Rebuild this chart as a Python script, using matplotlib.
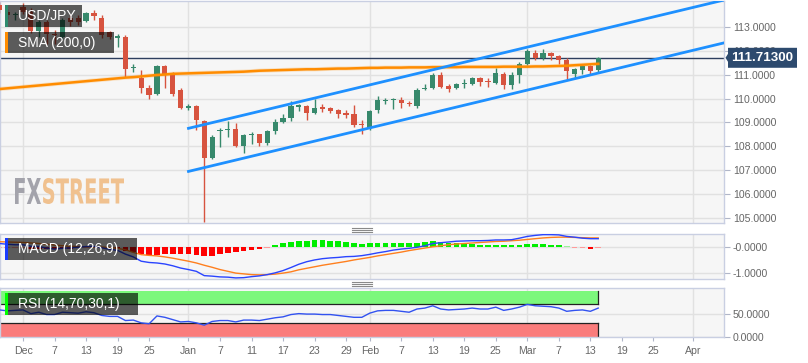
import matplotlib.pyplot as plt
import matplotlib.transforms as mtransforms
import numpy as np
import pandas as pd
from matplotlib.patches import Rectangle, Polygon, PathPatch
from matplotlib.lines import Line2D
from matplotlib.textpath import TextPath
from matplotlib.font_manager import FontProperties

plt.rcParams['font.family'] = ['Liberation Sans', 'DejaVu Sans']

# USD/JPY daily candles, 28 Nov 2018 - 14 Mar 2019 (weekdays)
opens = [113.95, 113.62, 113.50, 113.85, 113.65, 112.85, 113.20, 112.70, 112.60, 113.40,
         113.38, 113.25, 113.60, 113.40, 112.80, 112.55, 112.60, 111.27, 110.87, 110.45,
         110.20, 111.35, 111.05, 110.35, 109.62, 109.70, 109.05, 107.50, 108.62, 108.66,
         108.74, 108.00, 108.45, 108.50, 108.15, 108.62, 109.00, 109.20, 109.65, 109.68,
         109.40, 109.62, 109.60, 109.50, 109.35, 109.35, 108.92, 108.75, 109.50, 109.90,
         109.93, 109.95, 109.82, 109.70, 110.40, 110.45, 111.00, 110.52, 110.45, 110.60,
         110.62, 110.85, 110.75, 110.66, 111.05, 110.55, 111.00, 111.45, 111.90, 111.70,
         111.90, 111.77, 111.62, 111.05, 111.22, 111.35, 111.20]
highs = [114.05, 113.75, 113.65, 114.00, 113.80, 113.30, 113.30, 112.90, 113.40, 113.55,
         113.50, 113.65, 113.70, 113.50, 112.85, 112.70, 112.65, 111.47, 111.20, 110.55,
         111.40, 111.40, 111.10, 110.45, 109.78, 109.75, 109.10, 108.45, 108.75, 109.04,
         108.96, 108.50, 108.60, 108.52, 108.66, 109.13, 109.34, 109.90, 109.77, 109.75,
         109.98, 109.77, 109.64, 109.58, 109.51, 109.72, 109.08, 109.50, 110.10, 110.02,
         110.02, 110.06, 109.89, 110.43, 110.62, 111.08, 111.12, 110.60, 110.65, 110.83,
         110.90, 110.92, 110.87, 111.30, 111.10, 111.10, 111.55, 112.08, 112.05, 112.08,
         111.97, 111.85, 111.70, 111.30, 111.42, 111.43, 111.75]
lows = [113.60, 113.35, 113.30, 113.55, 112.75, 112.60, 112.30, 112.30, 112.50, 113.05,
        113.08, 113.20, 113.30, 112.55, 112.50, 112.15, 110.90, 111.10, 110.25, 110.00,
        110.15, 110.45, 110.10, 109.55, 109.50, 108.70, 104.80, 107.45, 107.98, 108.40,
        107.95, 107.70, 108.10, 108.00, 108.06, 108.53, 108.96, 109.04, 109.47, 109.08,
        109.34, 109.43, 109.40, 109.20, 109.17, 108.80, 108.50, 108.66, 109.38, 109.77,
        109.55, 109.60, 109.68, 109.62, 110.36, 110.40, 110.45, 110.28, 110.42, 110.45,
        110.55, 110.53, 110.50, 110.62, 110.40, 110.40, 110.66, 111.40, 111.60, 111.60,
        111.60, 111.45, 110.80, 110.87, 111.04, 111.00, 111.10]
closes = [113.70, 113.50, 113.55, 113.65, 112.85, 113.20, 112.70, 112.65, 113.30, 113.20,
          113.22, 113.60, 113.45, 112.65, 112.60, 112.60, 111.25, 111.32, 110.45, 110.15,
          111.35, 111.00, 110.20, 109.60, 109.70, 109.10, 107.50, 108.40, 108.70, 108.74,
          108.00, 108.45, 108.50, 108.15, 108.62, 109.00, 109.20, 109.68, 109.70, 109.38,
          109.60, 109.58, 109.47, 109.34, 109.32, 108.90, 108.88, 109.47, 109.94, 109.95,
          109.97, 109.80, 109.77, 110.38, 110.45, 111.00, 110.50, 110.42, 110.62, 110.64,
          110.85, 110.70, 110.68, 111.08, 110.58, 111.00, 111.45, 112.00, 111.70, 111.90,
          111.77, 111.60, 111.15, 111.25, 111.35, 111.15, 111.713]
sma200 = [110.40, 110.43, 110.46, 110.49, 110.52, 110.55, 110.58, 110.61, 110.64, 110.67,
          110.70, 110.73, 110.76, 110.79, 110.82, 110.85, 110.88, 110.90, 110.93, 110.96,
          110.99, 111.01, 111.04, 111.05, 111.06, 111.07, 111.08, 111.09, 111.10, 111.11,
          111.12, 111.13, 111.15, 111.17, 111.18, 111.19, 111.20, 111.21, 111.22, 111.23,
          111.23, 111.24, 111.25, 111.26, 111.26, 111.27, 111.28, 111.29, 111.29, 111.30,
          111.30, 111.30, 111.31, 111.31, 111.31, 111.32, 111.32, 111.32, 111.32, 111.33,
          111.33, 111.33, 111.33, 111.33, 111.34, 111.34, 111.34, 111.34, 111.35, 111.35,
          111.36, 111.37, 111.38, 111.40, 111.42, 111.44, 111.46]
macd = [0.15, 0.12, 0.10, 0.10, 0.04, 0.03, -0.03, -0.07, -0.04, -0.02,
        0.00, 0.03, 0.04, -0.02, -0.08, -0.12, -0.27, -0.38, -0.55, -0.60,
        -0.62, -0.66, -0.73, -0.82, -0.88, -0.95, -1.12, -1.14, -1.17, -1.18,
        -1.21, -1.20, -1.16, -1.13, -1.08, -1.01, -0.92, -0.80, -0.67, -0.57,
        -0.50, -0.45, -0.42, -0.40, -0.37, -0.36, -0.33, -0.28, -0.22, -0.17,
        -0.11, -0.07, -0.04, 0.00, 0.06, 0.15, 0.18, 0.21, 0.24, 0.25,
        0.26, 0.26, 0.27, 0.29, 0.29, 0.30, 0.36, 0.43, 0.47, 0.50,
        0.50, 0.49, 0.43, 0.40, 0.36, 0.34, 0.34]
signal = [0.22, 0.21, 0.20, 0.19, 0.17, 0.15, 0.12, 0.09, 0.06, 0.04,
          0.03, 0.02, 0.02, 0.01, -0.01, -0.04, -0.10, -0.20, -0.29, -0.32,
          -0.34, -0.38, -0.43, -0.49, -0.55, -0.62, -0.71, -0.79, -0.88, -0.95,
          -1.02, -1.05, -1.08, -1.09, -1.08, -1.06, -1.02, -0.97, -0.89, -0.83,
          -0.77, -0.71, -0.66, -0.61, -0.56, -0.50, -0.45, -0.40, -0.34, -0.29,
          -0.24, -0.19, -0.13, -0.08, -0.03, 0.02, 0.06, 0.10, 0.13, 0.15,
          0.17, 0.19, 0.21, 0.23, 0.24, 0.26, 0.28, 0.31, 0.34, 0.37,
          0.39, 0.40, 0.40, 0.39, 0.38, 0.37, 0.37]
hist = [-0.02, -0.03, -0.03, -0.04, -0.05, -0.06, -0.06, -0.07, -0.06, -0.05,
        -0.04, -0.03, -0.02, -0.03, -0.04, -0.06, -0.14, -0.20, -0.26, -0.29,
        -0.29, -0.26, -0.26, -0.26, -0.26, -0.29, -0.36, -0.33, -0.26, -0.22,
        -0.18, -0.13, -0.09, -0.05, -0.01, 0.10, 0.16, 0.21, 0.24, 0.26,
        0.29, 0.29, 0.26, 0.24, 0.21, 0.16, 0.13, 0.16, 0.16, 0.18,
        0.18, 0.18, 0.18, 0.18, 0.21, 0.24, 0.21, 0.18, 0.16, 0.13,
        0.13, 0.10, 0.10, 0.08, 0.08, 0.08, 0.10, 0.13, 0.13, 0.13,
        0.10, 0.08, 0.04, -0.01, -0.03, -0.05, -0.03]
rsi = [58, 56, 57, 58, 50, 53, 48, 48, 53, 52,
       51, 54, 52, 46, 44, 44, 35, 36, 30, 28,
       45, 42, 37, 32, 33, 30, 25, 33, 35, 35,
       32, 36, 36, 35, 38, 41, 43, 48, 50, 49,
       49, 48, 48, 46, 44, 42, 42, 51, 56, 57,
       57, 55, 53, 60, 62, 67, 60, 58, 59, 60,
       62, 60, 60, 64, 57, 60, 64, 70, 67, 66,
       65, 62, 55, 57, 58, 55, 62]
last_price = 111.713

# trend channel (date, upper, lower)
chan_dates = ['2019-01-01', '2019-04-12']
chan_upper = [108.75, 114.54]
chan_lower = [106.94, 112.74]

tick_dates = ['2018-12-03', '2018-12-07', '2018-12-13', '2018-12-19', '2018-12-25',
              '2019-01-01', '2019-01-07', '2019-01-11', '2019-01-17', '2019-01-23',
              '2019-01-29', '2019-02-01', '2019-02-07', '2019-02-13', '2019-02-19',
              '2019-02-25', '2019-03-01', '2019-03-07', '2019-03-13', '2019-03-19',
              '2019-03-25', '2019-04-01']
tick_labels = ['Dec', '7', '13', '19', '25', 'Jan', '7', '11', '17', '23', '29', 'Feb',
               '7', '13', '19', '25', 'Mar', '7', '13', '19', '25', 'Apr']

days = pd.bdate_range('2018-11-28', '2019-04-12')
def pos(d):
    return days.get_loc(pd.Timestamp(d))

n = len(opens)
x = np.arange(n)
tick_pos = [pos(d) for d in tick_dates]
month_pos = [p for p, l in zip(tick_pos, tick_labels) if not l.isdigit()]
x_lo, x_hi = 0.08, 91.96

W, H = 808, 363
fig = plt.figure(figsize=(W / 100, H / 100), dpi=100)

def fbox(x0, y0, x1, y1):
    return [x0 / W, 1 - y1 / H, (x1 - x0) / W, (y1 - y0) / H]

ax = fig.add_axes(fbox(0, 0.5, 724, 223.3))
axm = fig.add_axes(fbox(0, 233.5, 724, 279))
axr = fig.add_axes(fbox(0, 288, 724, 336.7))

GRID = '#e1e1e1'
def style(a):
    a.set_facecolor('#f6f6f6')
    for s in a.spines.values():
        s.set_color('#c9cfe2')
        s.set_linewidth(1)
    a.yaxis.tick_right()
    a.tick_params(axis='y', labelsize=7.6, labelcolor='#666666', color='#b0b6c8',
                  length=4.5, width=0.8, pad=2)
    a.tick_params(axis='x', bottom=False, labelbottom=False)
    a.set_xlim(x_lo, x_hi)
    a.grid(axis='y', color=GRID, lw=1)
    a.set_axisbelow(True)
    for m in month_pos:
        a.axvline(m, color=GRID, lw=1, zorder=0.5)

for a in (ax, axm, axr):
    style(a)

# ---- main price panel ----
ax.set_ylim(104.76, 114.12)
ax.set_yticks(range(105, 114))
ax.yaxis.set_major_formatter(plt.FormatStrFormatter('%.4f'))

o = np.array(opens); c = np.array(closes)
up = c >= o
cols = np.where(up, '#37896c', '#d7533f')
ax.vlines(x, lows, highs, colors=cols, lw=1, zorder=3)
bottom = np.minimum(o, c)
height = np.maximum(np.abs(c - o), 0.06)
ax.bar(x, height, bottom=bottom, width=0.66, color=cols, zorder=3)

ax.plot(x, sma200, color='#ff8c00', lw=3, alpha=0.2, zorder=4)
ax.plot(x, sma200, color='#ff8c00', lw=1.8, zorder=4)

cx = [pos(d) for d in chan_dates]
ax.plot(cx, chan_upper, color='#1e90ff', lw=2, zorder=4)
ax.plot(cx, chan_lower, color='#1e90ff', lw=2, zorder=4)

ax.axhline(last_price, color='#2d3e5e', lw=1, zorder=2.5)
bt = mtransforms.blended_transform_factory(ax.transAxes, ax.transData)
hu = 10 / 23.83
xa, xb, xt = 1 + 1.5 / 724, 1 + 4 / 724, 1 + 73 / 724
ax.add_patch(Polygon([(xa, last_price), (xb, last_price + hu * 0.4), (xb, last_price + hu),
                      (xt, last_price + hu), (xt, last_price - hu), (xb, last_price - hu),
                      (xb, last_price - hu * 0.4)], closed=True, transform=bt,
                     fc='#2d4a6e', ec='none', clip_on=False, zorder=6))
ax.text(1 + 38.5 / 724, last_price, f'{last_price:.5f}', transform=bt, ha='center',
        va='center', color='white', fontsize=9.6, fontweight='bold', zorder=7)

# watermark, stretched to a condensed look
def stretched_text(s, x0, x1, ytop, ybot, color):
    tp = TextPath((0, 0), s, size=10, prop=FontProperties(family='DejaVu Sans', weight='bold'))
    bb = tp.get_extents()
    tr = (mtransforms.Affine2D().translate(-bb.x0, -bb.y0)
          .scale((x1 - x0) / bb.width, (ybot - ytop) / bb.height)
          .translate(x0, H - ybot))
    ax.add_patch(PathPatch(tp, transform=tr, fc=color, ec='none', zorder=1))

stretched_text('FX', 15, 41, 178, 204, '#a3a3ab')
stretched_text('STREET', 43, 124, 178, 204, '#f0c18f')

# ---- MACD panel ----
axm.set_ylim(-1.253, 0.545)
axm.set_yticks([0, -1], ['-0.0000', '-1.0000'])
hv = np.array(hist)
hcol = np.where(hv >= 0, np.where(np.abs(hv) < 0.05, '#9af09a', '#00ee00'),
                np.where(np.abs(hv) < 0.05, '#ff9a9a', '#ff0000'))
axm.bar(x, hv, width=0.72, color=hcol, zorder=2)
axm.plot(x, signal, color='#ff7f1e', lw=1, zorder=3)
axm.plot(x, macd, color='#2a44ff', lw=1, zorder=3)

# ---- RSI panel ----
axr.set_ylim(0, 105.5)
axr.set_yticks([0, 50], ['0.0000', '50.0000'])
last = x[-1]
axr.add_patch(Rectangle((x_lo - 1, 70), last - x_lo + 1, 30, fc='#7cf87c', ec='none', zorder=1))
axr.add_patch(Rectangle((x_lo - 1, 0), last - x_lo + 1, 30, fc='#fa7c7c', ec='none', zorder=1))
for yv, y2 in ((70, 100), (30, 0)):
    axr.plot([x_lo, last], [yv, yv], color='#222222', lw=0.9, zorder=2)
    axr.plot([last, last], [yv, y2], color='#222222', lw=0.9, zorder=2)
    axr.plot([x_lo, x_lo], [yv, y2], color='#222222', lw=1.2, zorder=2)
axr.plot(x, rsi, color='#3252f0', lw=1, zorder=3)
axr.set_xticks(tick_pos, tick_labels)
axr.tick_params(axis='x', bottom=True, labelbottom=True, labelsize=7.6,
                labelcolor='#666666', color='#b0b6c8', length=3, pad=3.5)

# ---- overlay legend boxes ----
def label_box(x0, y0, x1, y1, text, accent):
    fig.add_artist(Rectangle((x0 / W, 1 - y1 / H), (x1 - x0) / W, (y1 - y0) / H,
                             transform=fig.transFigure, fc='black', alpha=0.63, ec='none', zorder=8))
    fig.add_artist(Rectangle((x0 / W, 1 - y1 / H), 2.5 / W, (y1 - y0) / H,
                             transform=fig.transFigure, fc=accent, ec='none', zorder=9))
    fig.text(18 / W, 1 - (y0 + y1) / 2 / H, text, ha='left', va='center', color='white',
             fontsize=10, zorder=10)

label_box(5, 5, 82, 27, 'USD/JPY', '#2e8b6e')
label_box(5, 32, 114, 53, 'SMA (200,0)', '#ff8c00')
label_box(5, 238, 137, 260, 'MACD (12,26,9)', '#1a3cff')
label_box(5, 293, 138, 315, 'RSI (14,70,30,1)', '#00ff00')

# panel resize handles
for ys in ((228, 230, 232), (282, 284, 286)):
    for yy in ys:
        fig.add_artist(Line2D([352 / W, 372 / W], [1 - yy / H] * 2, color='#8a8a8a', lw=0.8))

fig.savefig('out.png', dpi=100)
